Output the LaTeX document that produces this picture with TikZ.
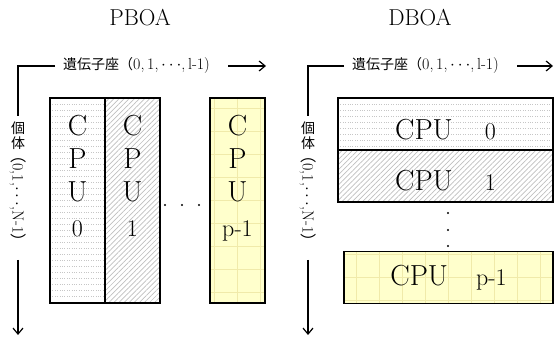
\documentclass[tikz,border=0pt]{standalone}
\usepackage{fontspec}
\newfontfamily\jpfont{Noto Sans CJK JP}
\usepackage{tikz}
\usetikzlibrary{arrows.meta,positioning,patterns.meta}

\definecolor{cpuyellow}{RGB}{255,255,204}
\definecolor{cpugrid}{RGB}{240,234,170}
\newcommand{\cpufont}{\fontsize{29}{33}\selectfont}
\newcommand{\numfont}{\fontsize{24}{33}\selectfont}
\newcommand{\axisfont}{\fontsize{16}{18}\selectfont}
\newcommand{\kanjifont}{\fontsize{14}{16}\selectfont\jpfont}

\begin{document}
\begin{tikzpicture}[
    x=1pt, y=1pt,
    axis/.style={line width=1.2pt},
    axisarrow/.style={axis, -{Straight Barb[length=6pt,width=10pt]}},
    cpubox/.style={rectangle, draw, line width=1.3pt, inner sep=0pt, outer sep=0pt},
    colbox/.style={cpubox, minimum width=55pt, minimum height=205pt},
    rowbox/.style={cpubox, minimum width=215pt, minimum height=52pt},
    dotfill/.style={path picture={
        \foreach \k in {1,...,36}
            \draw[gray!45, dotted, line width=0.4pt]
                ([yshift=-\k*6pt]path picture bounding box.north west) -- ([yshift=-\k*6pt]path picture bounding box.north east);}},
    hatchfill/.style={pattern={Lines[angle=45,distance=3.6pt,line width=0.7pt]}, pattern color=gray!50},
    yellowfill/.style={fill=cpuyellow, path picture={\draw[cpugrid, line width=0.5pt] (path picture bounding box.south west) grid[step=23pt] (path picture bounding box.north east);}},
    coltext/.style={inner sep=0pt, align=center, font=\cpufont},
    rowtext/.style={inner sep=0pt, anchor=base, font=\cpufont},
    title/.style={font=\fontsize{23}{26}\selectfont},
    genelabel/.style={font=\axisfont, inner sep=2pt, anchor=west},
    kanjilabel/.style={font=\kanjifont, inner sep=0pt},
    numlabel/.style={font=\axisfont, inner sep=0pt, rotate=-90, anchor=west}
]
    \useasboundingbox (0,0) rectangle (555,340);

    % PBOA
    \node[title] (Ptitle) at (140,322) {PBOA};
    \coordinate (Lcorner) at (18,274);
    \coordinate (Lgeneend) at (266,274);
    \coordinate (Lindend) at (18,5);
    \node[genelabel] (Lgene) at (61,274) {{\kanjifont 遺伝子座（}0,\,1,\,$\cdots$,\,l-1)};
    \node[kanjilabel, anchor=north] (Lko) at (18,218) {個};
    \node[kanjilabel, below=1pt of Lko] (Lkt) {体};
    \node[numlabel] (Lnum) at ([yshift=2pt]Lkt.south) {{\jpfont （}0,1,$\cdots$,N-1{\jpfont ）}};
    \draw[axis, shorten <=6pt, shorten >=6pt] (Lgene.west) -- (Lcorner) -- (Lko.north);
    \draw[axisarrow, shorten <=16pt] (Lgene.east) -- (Lgeneend);
    \draw[axisarrow, shorten <=10pt] (Lnum.east) -- (Lindend);

    \node[colbox, dotfill] (Lcpu0) at (77.5,139.5) {};
    \node[colbox, hatchfill, right=0pt of Lcpu0] (Lcpu1) {};
    \node[colbox, yellowfill] (Lcpup) at (237.5,139.5) {};
    \node[coltext, below=17pt of Lcpu0.north] (Lt0) {C\\P\\U\\[2pt]{\numfont 0}};
    \node[coltext, below=17pt of Lcpu1.north] (Lt1) {C\\P\\U\\[2pt]{\numfont 1}};
    \node[coltext, below=17pt of Lcpup.north] (Ltp) {C\\P\\U\\[2pt]{\numfont p-1}};
    \foreach \x in {165,182,199}
        \fill (\x,135) circle (1.2pt);

    % DBOA
    \node[title] (Dtitle) at (420,322) {DBOA};
    \coordinate (Rcorner) at (308,274);
    \coordinate (Rgeneend) at (553,274);
    \coordinate (Rindend) at (308,5);
    \node[genelabel] (Rgene) at (350,274) {{\kanjifont 遺伝子座（}0,\,1,\,$\cdots$,\,l-1)};
    \node[kanjilabel, anchor=north] (Rko) at (308,218) {個};
    \node[kanjilabel, below=1pt of Rko] (Rkt) {体};
    \node[numlabel] (Rnum) at ([yshift=2pt]Rkt.south) {{\jpfont （}0,1,$\cdots$,N-1{\jpfont ）}};
    \draw[axis, shorten <=6pt, shorten >=6pt] (Rgene.west) -- (Rcorner) -- (Rko.north);
    \draw[axisarrow, shorten <=16pt] (Rgene.east) -- (Rgeneend);
    \draw[axisarrow, shorten <=10pt] (Rnum.east) -- (Rindend);

    \node[rowbox, dotfill] (Rcpu0) at (445.5,216) {};
    \node[rowbox, hatchfill, below=0pt of Rcpu0] (Rcpu1) {};
    \node[rowbox, yellowfill, minimum width=209pt] (Rcpup) at (448.5,62.5) {};
    \node[rowtext] (Rt0) at ([yshift=-16pt]Rcpu0.center) {CPU\hspace{32pt}{\numfont 0}};
    \node[rowtext] (Rt1) at ([yshift=-15pt]Rcpu1.center) {CPU\hspace{32pt}{\numfont 1}};
    \node[rowtext] (Rtp) at ([yshift=-8pt]Rcpup.center) {CPU\hspace{28pt}{\numfont p-1}};
    \foreach \y in {127,110,94}
        \fill (448,\y) circle (1.2pt);
\end{tikzpicture}
\end{document}
